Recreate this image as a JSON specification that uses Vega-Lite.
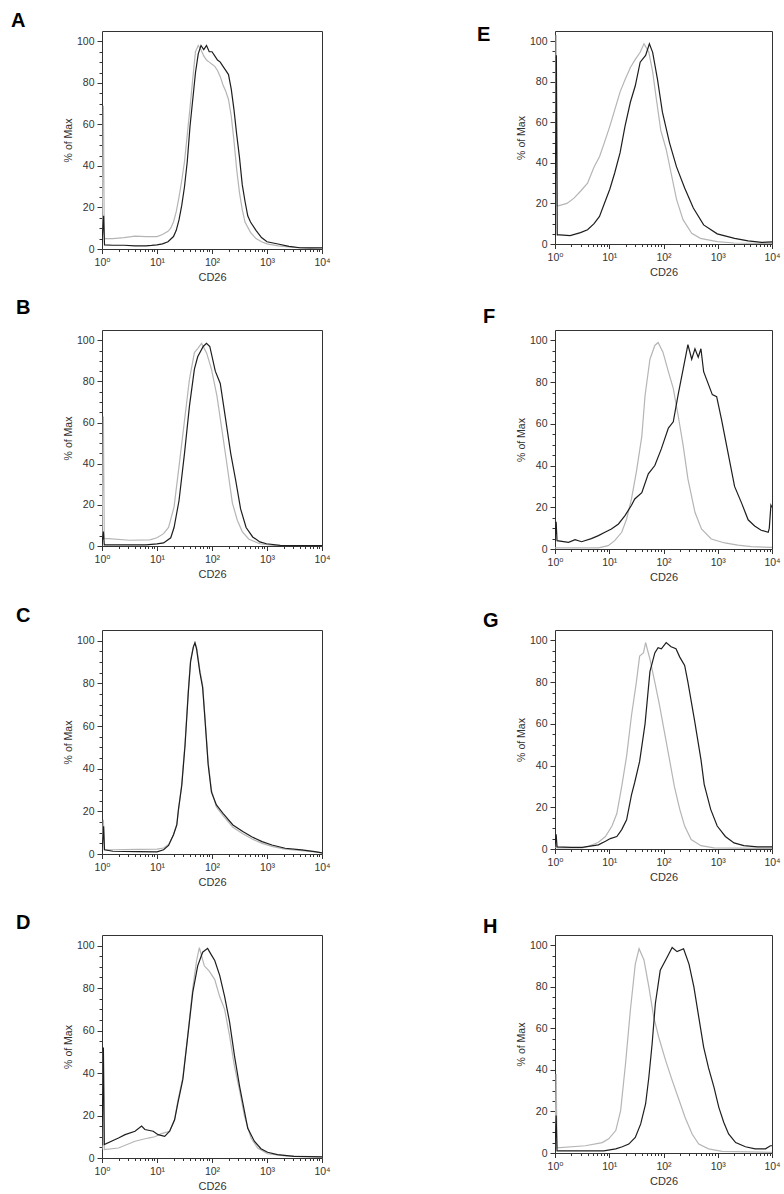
{
"$schema": "https://vega.github.io/schema/vega-lite/v6.json",
"padding": {"left": 10, "top": 10, "right": 5, "bottom": 2},
"background": "white",
"config": {
  "font": "Liberation Sans",
  "view": {"stroke": "#333", "strokeWidth": 1},
  "title": {"fontSize": 20, "fontWeight": "bold", "anchor": "start", "baseline": "alphabetic", "color": "#000", "font": "Liberation Sans", "frame": "group"},
  "axis": {"grid": false, "domain": false, "labelFont": "Liberation Sans, DejaVu Sans", "labelFontSize": 10.5, "labelColor": "#333", "tickColor": "#333", "tickWidth": 1, "titleFont": "Liberation Sans", "titleFontSize": 11, "titleFontWeight": "normal", "titleColor": "#333", "labelOverlap": false, "labelFlush": false, "labelBound": false},
  "axisX": {"labelPadding": 4, "titlePadding": 3},
  "axisY": {"labelPadding": 3, "titlePadding": 3, "titleFontSize": 10.5}
},
"data": {"values": [
{"p":"A","s":"g","x":1,"y":5},{"p":"A","s":"g","x":1.06,"y":69},{"p":"A","s":"g","x":1.1,"y":5},{"p":"A","s":"g","x":1.585,"y":5},{"p":"A","s":"g","x":2.512,"y":5.5},{"p":"A","s":"g","x":3.981,"y":6.2},{"p":"A","s":"g","x":6.31,"y":6},{"p":"A","s":"g","x":10,"y":6},{"p":"A","s":"g","x":12.59,"y":7},{"p":"A","s":"g","x":15.85,"y":8.5},{"p":"A","s":"g","x":17.78,"y":10},{"p":"A","s":"g","x":19.95,"y":13},{"p":"A","s":"g","x":22.39,"y":18},{"p":"A","s":"g","x":25.12,"y":25},{"p":"A","s":"g","x":28.18,"y":33},{"p":"A","s":"g","x":31.62,"y":42},{"p":"A","s":"g","x":35.48,"y":55},{"p":"A","s":"g","x":39.81,"y":68},{"p":"A","s":"g","x":44.67,"y":82},{"p":"A","s":"g","x":50.12,"y":95},{"p":"A","s":"g","x":56.23,"y":98},{"p":"A","s":"g","x":63.1,"y":96},{"p":"A","s":"g","x":70.79,"y":93},{"p":"A","s":"g","x":79.43,"y":91},{"p":"A","s":"g","x":89.13,"y":90},{"p":"A","s":"g","x":100,"y":89},{"p":"A","s":"g","x":112.2,"y":88},{"p":"A","s":"g","x":125.9,"y":86},{"p":"A","s":"g","x":141.3,"y":83},{"p":"A","s":"g","x":158.5,"y":79},{"p":"A","s":"g","x":177.8,"y":76},{"p":"A","s":"g","x":199.5,"y":72},{"p":"A","s":"g","x":223.9,"y":64},{"p":"A","s":"g","x":251.2,"y":52},{"p":"A","s":"g","x":281.8,"y":38},{"p":"A","s":"g","x":316.2,"y":27},{"p":"A","s":"g","x":354.8,"y":19},{"p":"A","s":"g","x":398.1,"y":13},{"p":"A","s":"g","x":501.2,"y":8},{"p":"A","s":"g","x":631,"y":5},{"p":"A","s":"g","x":794.3,"y":3.5},{"p":"A","s":"g","x":1000,"y":2.5},{"p":"A","s":"g","x":1585,"y":1.5},{"p":"A","s":"g","x":2512,"y":1},{"p":"A","s":"g","x":3981,"y":0.5},{"p":"A","s":"g","x":10000,"y":0.3},
{"p":"A","s":"k","x":1,"y":3},{"p":"A","s":"k","x":1.07,"y":16},{"p":"A","s":"k","x":1.11,"y":2},{"p":"A","s":"k","x":1.585,"y":1.8},{"p":"A","s":"k","x":2.512,"y":1.8},{"p":"A","s":"k","x":3.981,"y":1.5},{"p":"A","s":"k","x":6.31,"y":1.5},{"p":"A","s":"k","x":7.943,"y":1.7},{"p":"A","s":"k","x":10,"y":2},{"p":"A","s":"k","x":12.59,"y":2.5},{"p":"A","s":"k","x":15.85,"y":3.5},{"p":"A","s":"k","x":19.95,"y":6},{"p":"A","s":"k","x":22.39,"y":9},{"p":"A","s":"k","x":25.12,"y":14},{"p":"A","s":"k","x":28.18,"y":21},{"p":"A","s":"k","x":31.62,"y":30},{"p":"A","s":"k","x":35.48,"y":42},{"p":"A","s":"k","x":39.81,"y":59},{"p":"A","s":"k","x":44.67,"y":72},{"p":"A","s":"k","x":50.12,"y":85},{"p":"A","s":"k","x":56.23,"y":94},{"p":"A","s":"k","x":63.1,"y":98},{"p":"A","s":"k","x":70.79,"y":96},{"p":"A","s":"k","x":79.43,"y":98},{"p":"A","s":"k","x":89.13,"y":95},{"p":"A","s":"k","x":100,"y":95},{"p":"A","s":"k","x":112.2,"y":93},{"p":"A","s":"k","x":125.9,"y":91},{"p":"A","s":"k","x":141.3,"y":90},{"p":"A","s":"k","x":158.5,"y":88},{"p":"A","s":"k","x":177.8,"y":86},{"p":"A","s":"k","x":199.5,"y":84},{"p":"A","s":"k","x":223.9,"y":77},{"p":"A","s":"k","x":251.2,"y":67},{"p":"A","s":"k","x":281.8,"y":55},{"p":"A","s":"k","x":316.2,"y":44},{"p":"A","s":"k","x":354.8,"y":31},{"p":"A","s":"k","x":398.1,"y":23},{"p":"A","s":"k","x":446.7,"y":16},{"p":"A","s":"k","x":501.2,"y":13},{"p":"A","s":"k","x":631,"y":9},{"p":"A","s":"k","x":794.3,"y":5.5},{"p":"A","s":"k","x":1000,"y":3.5},{"p":"A","s":"k","x":1585,"y":2.4},{"p":"A","s":"k","x":2512,"y":1.3},{"p":"A","s":"k","x":3981,"y":0.6},{"p":"A","s":"k","x":6310,"y":0.5},{"p":"A","s":"k","x":10000,"y":0.6},
{"p":"B","s":"g","x":1,"y":3},{"p":"B","s":"g","x":1.06,"y":63},{"p":"B","s":"g","x":1.1,"y":3.6},{"p":"B","s":"g","x":1.318,"y":3.6},{"p":"B","s":"g","x":3.162,"y":2.8},{"p":"B","s":"g","x":7.413,"y":3},{"p":"B","s":"g","x":10,"y":4},{"p":"B","s":"g","x":13.18,"y":6},{"p":"B","s":"g","x":16.22,"y":9},{"p":"B","s":"g","x":20.42,"y":19},{"p":"B","s":"g","x":25.12,"y":38.6},{"p":"B","s":"g","x":31.62,"y":61},{"p":"B","s":"g","x":38.9,"y":81},{"p":"B","s":"g","x":47.86,"y":94},{"p":"B","s":"g","x":54.95,"y":96},{"p":"B","s":"g","x":64.57,"y":98.5},{"p":"B","s":"g","x":79.43,"y":94},{"p":"B","s":"g","x":97.72,"y":86},{"p":"B","s":"g","x":123,"y":73},{"p":"B","s":"g","x":151.4,"y":56.5},{"p":"B","s":"g","x":186.2,"y":40},{"p":"B","s":"g","x":234.4,"y":21},{"p":"B","s":"g","x":288.4,"y":12.5},{"p":"B","s":"g","x":354.8,"y":7},{"p":"B","s":"g","x":467.7,"y":3.3},{"p":"B","s":"g","x":741.3,"y":1.1},{"p":"B","s":"g","x":1288,"y":0.3},{"p":"B","s":"g","x":10000,"y":0.2},
{"p":"B","s":"k","x":1,"y":1},{"p":"B","s":"k","x":1.06,"y":7},{"p":"B","s":"k","x":1.1,"y":0.5},{"p":"B","s":"k","x":1.585,"y":0.5},{"p":"B","s":"k","x":3.162,"y":0.5},{"p":"B","s":"k","x":6.31,"y":0.5},{"p":"B","s":"k","x":10,"y":1},{"p":"B","s":"k","x":13.18,"y":1.5},{"p":"B","s":"k","x":17.78,"y":4},{"p":"B","s":"k","x":20.42,"y":9},{"p":"B","s":"k","x":25.12,"y":22},{"p":"B","s":"k","x":31.62,"y":45},{"p":"B","s":"k","x":38.9,"y":68},{"p":"B","s":"k","x":47.86,"y":86},{"p":"B","s":"k","x":54.95,"y":92},{"p":"B","s":"k","x":69.18,"y":97},{"p":"B","s":"k","x":79.43,"y":98.5},{"p":"B","s":"k","x":91.2,"y":97},{"p":"B","s":"k","x":114.8,"y":85},{"p":"B","s":"k","x":141.3,"y":79},{"p":"B","s":"k","x":173.8,"y":63},{"p":"B","s":"k","x":218.8,"y":45},{"p":"B","s":"k","x":269.2,"y":32},{"p":"B","s":"k","x":331.1,"y":18},{"p":"B","s":"k","x":416.9,"y":9},{"p":"B","s":"k","x":549.5,"y":4.4},{"p":"B","s":"k","x":741.3,"y":2},{"p":"B","s":"k","x":977.2,"y":1.1},{"p":"B","s":"k","x":1738,"y":0.3},{"p":"B","s":"k","x":10000,"y":0.2},
{"p":"C","s":"g","x":1,"y":2},{"p":"C","s":"g","x":1.06,"y":16},{"p":"C","s":"g","x":1.1,"y":2},{"p":"C","s":"g","x":1.585,"y":2},{"p":"C","s":"g","x":4.365,"y":2.2},{"p":"C","s":"g","x":10,"y":2.3},{"p":"C","s":"g","x":13.18,"y":2.8},{"p":"C","s":"g","x":16.22,"y":4.5},{"p":"C","s":"g","x":19.95,"y":9},{"p":"C","s":"g","x":22.91,"y":14},{"p":"C","s":"g","x":24.55,"y":20},{"p":"C","s":"g","x":28.18,"y":33},{"p":"C","s":"g","x":32.36,"y":52},{"p":"C","s":"g","x":37.15,"y":77},{"p":"C","s":"g","x":40.74,"y":91},{"p":"C","s":"g","x":45.71,"y":97},{"p":"C","s":"g","x":48.98,"y":99},{"p":"C","s":"g","x":52.48,"y":97},{"p":"C","s":"g","x":60.26,"y":86},{"p":"C","s":"g","x":67.61,"y":79},{"p":"C","s":"g","x":74.13,"y":65},{"p":"C","s":"g","x":85.11,"y":43},{"p":"C","s":"g","x":97.72,"y":30},{"p":"C","s":"g","x":120.2,"y":22},{"p":"C","s":"g","x":158.5,"y":18},{"p":"C","s":"g","x":239.9,"y":12.5},{"p":"C","s":"g","x":363.1,"y":9.5},{"p":"C","s":"g","x":537,"y":7},{"p":"C","s":"g","x":812.8,"y":5},{"p":"C","s":"g","x":1230,"y":3.6},{"p":"C","s":"g","x":2138,"y":2.3},{"p":"C","s":"g","x":4266,"y":1.6},{"p":"C","s":"g","x":7413,"y":1},{"p":"C","s":"g","x":10000,"y":0.5},
{"p":"C","s":"k","x":1,"y":1},{"p":"C","s":"k","x":1.07,"y":13},{"p":"C","s":"k","x":1.11,"y":2},{"p":"C","s":"k","x":1.585,"y":1.3},{"p":"C","s":"k","x":4.365,"y":1.1},{"p":"C","s":"k","x":10,"y":1},{"p":"C","s":"k","x":13.18,"y":2},{"p":"C","s":"k","x":16.22,"y":4},{"p":"C","s":"k","x":19.95,"y":9},{"p":"C","s":"k","x":22.91,"y":13.6},{"p":"C","s":"k","x":24.55,"y":21},{"p":"C","s":"k","x":28.18,"y":32},{"p":"C","s":"k","x":32.36,"y":51},{"p":"C","s":"k","x":37.15,"y":76},{"p":"C","s":"k","x":40.74,"y":90},{"p":"C","s":"k","x":45.71,"y":97},{"p":"C","s":"k","x":48.98,"y":99},{"p":"C","s":"k","x":52.48,"y":96},{"p":"C","s":"k","x":60.26,"y":85},{"p":"C","s":"k","x":67.61,"y":78},{"p":"C","s":"k","x":74.13,"y":64},{"p":"C","s":"k","x":85.11,"y":42},{"p":"C","s":"k","x":97.72,"y":29},{"p":"C","s":"k","x":120.2,"y":23},{"p":"C","s":"k","x":158.5,"y":19},{"p":"C","s":"k","x":239.9,"y":13.6},{"p":"C","s":"k","x":363.1,"y":10.5},{"p":"C","s":"k","x":537,"y":8},{"p":"C","s":"k","x":812.8,"y":5.8},{"p":"C","s":"k","x":1230,"y":4.2},{"p":"C","s":"k","x":2138,"y":2.7},{"p":"C","s":"k","x":4266,"y":1.9},{"p":"C","s":"k","x":7413,"y":1.1},{"p":"C","s":"k","x":10000,"y":0.5},
{"p":"D","s":"g","x":1,"y":4},{"p":"D","s":"g","x":1.06,"y":50},{"p":"D","s":"g","x":1.1,"y":4},{"p":"D","s":"g","x":1.995,"y":4.7},{"p":"D","s":"g","x":3.981,"y":7.9},{"p":"D","s":"g","x":6.918,"y":9.4},{"p":"D","s":"g","x":9.12,"y":10},{"p":"D","s":"g","x":12.02,"y":11.5},{"p":"D","s":"g","x":16.98,"y":12.6},{"p":"D","s":"g","x":20.89,"y":18},{"p":"D","s":"g","x":23.99,"y":27},{"p":"D","s":"g","x":29.51,"y":38},{"p":"D","s":"g","x":36.31,"y":58},{"p":"D","s":"g","x":44.67,"y":80},{"p":"D","s":"g","x":52.48,"y":93},{"p":"D","s":"g","x":58.88,"y":99},{"p":"D","s":"g","x":72.44,"y":90.5},{"p":"D","s":"g","x":89.13,"y":88},{"p":"D","s":"g","x":112.2,"y":84},{"p":"D","s":"g","x":138,"y":76},{"p":"D","s":"g","x":169.8,"y":70},{"p":"D","s":"g","x":208.9,"y":57.5},{"p":"D","s":"g","x":257,"y":43},{"p":"D","s":"g","x":316.2,"y":32},{"p":"D","s":"g","x":389,"y":19.7},{"p":"D","s":"g","x":512.9,"y":9.4},{"p":"D","s":"g","x":676.1,"y":4.7},{"p":"D","s":"g","x":1023,"y":2},{"p":"D","s":"g","x":2138,"y":1},{"p":"D","s":"g","x":10000,"y":0.5},
{"p":"D","s":"k","x":1,"y":6},{"p":"D","s":"k","x":1.06,"y":52},{"p":"D","s":"k","x":1.1,"y":6.3},{"p":"D","s":"k","x":1.738,"y":8.7},{"p":"D","s":"k","x":1.995,"y":9.4},{"p":"D","s":"k","x":2.63,"y":11},{"p":"D","s":"k","x":3.981,"y":12.6},{"p":"D","s":"k","x":5.248,"y":15},{"p":"D","s":"k","x":6.026,"y":13.4},{"p":"D","s":"k","x":8.511,"y":12.6},{"p":"D","s":"k","x":10.47,"y":11},{"p":"D","s":"k","x":13.8,"y":10.2},{"p":"D","s":"k","x":16.98,"y":12.6},{"p":"D","s":"k","x":20.89,"y":18},{"p":"D","s":"k","x":23.99,"y":26},{"p":"D","s":"k","x":29.51,"y":37},{"p":"D","s":"k","x":36.31,"y":57.5},{"p":"D","s":"k","x":44.67,"y":78},{"p":"D","s":"k","x":54.95,"y":90.5},{"p":"D","s":"k","x":67.61,"y":96.9},{"p":"D","s":"k","x":83.18,"y":98.7},{"p":"D","s":"k","x":95.5,"y":96},{"p":"D","s":"k","x":112.2,"y":93},{"p":"D","s":"k","x":138,"y":86},{"p":"D","s":"k","x":169.8,"y":76},{"p":"D","s":"k","x":208.9,"y":64},{"p":"D","s":"k","x":257,"y":48},{"p":"D","s":"k","x":316.2,"y":34},{"p":"D","s":"k","x":363.1,"y":26},{"p":"D","s":"k","x":446.7,"y":14},{"p":"D","s":"k","x":588.8,"y":7.9},{"p":"D","s":"k","x":776.2,"y":4.4},{"p":"D","s":"k","x":1023,"y":2.7},{"p":"D","s":"k","x":1549,"y":1.6},{"p":"D","s":"k","x":3090,"y":0.8},{"p":"D","s":"k","x":10000,"y":0.5},
{"p":"E","s":"g","x":1,"y":19},{"p":"E","s":"g","x":1.05,"y":103},{"p":"E","s":"g","x":1.09,"y":19},{"p":"E","s":"g","x":1.148,"y":18.8},{"p":"E","s":"g","x":1.66,"y":20},{"p":"E","s":"g","x":2.239,"y":22.6},{"p":"E","s":"g","x":2.951,"y":26},{"p":"E","s":"g","x":3.981,"y":30},{"p":"E","s":"g","x":5.248,"y":38},{"p":"E","s":"g","x":6.607,"y":43},{"p":"E","s":"g","x":8.128,"y":50},{"p":"E","s":"g","x":10.23,"y":58},{"p":"E","s":"g","x":12.59,"y":66},{"p":"E","s":"g","x":15.85,"y":75},{"p":"E","s":"g","x":19.5,"y":81},{"p":"E","s":"g","x":24.55,"y":87},{"p":"E","s":"g","x":30.2,"y":91},{"p":"E","s":"g","x":37.15,"y":94.5},{"p":"E","s":"g","x":43.65,"y":98.7},{"p":"E","s":"g","x":53.7,"y":94.5},{"p":"E","s":"g","x":63.1,"y":85},{"p":"E","s":"g","x":72.44,"y":73},{"p":"E","s":"g","x":89.13,"y":56},{"p":"E","s":"g","x":112.2,"y":46.6},{"p":"E","s":"g","x":138,"y":35},{"p":"E","s":"g","x":173.8,"y":22},{"p":"E","s":"g","x":229.1,"y":12},{"p":"E","s":"g","x":331.1,"y":5.3},{"p":"E","s":"g","x":478.6,"y":2.8},{"p":"E","s":"g","x":977.2,"y":1.2},{"p":"E","s":"g","x":2000,"y":0.5},{"p":"E","s":"g","x":10000,"y":0.3},
{"p":"E","s":"k","x":1,"y":4},{"p":"E","s":"k","x":1.06,"y":93},{"p":"E","s":"k","x":1.1,"y":4.5},{"p":"E","s":"k","x":1.23,"y":4.5},{"p":"E","s":"k","x":1.905,"y":4.1},{"p":"E","s":"k","x":2.951,"y":5.6},{"p":"E","s":"k","x":3.981,"y":7},{"p":"E","s":"k","x":5.248,"y":10},{"p":"E","s":"k","x":6.607,"y":13.6},{"p":"E","s":"k","x":8.128,"y":20},{"p":"E","s":"k","x":10.23,"y":27},{"p":"E","s":"k","x":12.59,"y":35},{"p":"E","s":"k","x":15.85,"y":45},{"p":"E","s":"k","x":19.5,"y":58},{"p":"E","s":"k","x":24.55,"y":70},{"p":"E","s":"k","x":30.2,"y":78},{"p":"E","s":"k","x":37.15,"y":89.6},{"p":"E","s":"k","x":46.77,"y":93},{"p":"E","s":"k","x":54.95,"y":98.7},{"p":"E","s":"k","x":63.1,"y":94.5},{"p":"E","s":"k","x":77.62,"y":81},{"p":"E","s":"k","x":95.5,"y":65},{"p":"E","s":"k","x":128.8,"y":50},{"p":"E","s":"k","x":173.8,"y":38},{"p":"E","s":"k","x":245.5,"y":27.6},{"p":"E","s":"k","x":354.8,"y":17.7},{"p":"E","s":"k","x":549.5,"y":9.4},{"p":"E","s":"k","x":977.2,"y":5},{"p":"E","s":"k","x":2042,"y":2.8},{"p":"E","s":"k","x":3631,"y":1.5},{"p":"E","s":"k","x":6457,"y":0.8},{"p":"E","s":"k","x":10000,"y":1},
{"p":"F","s":"g","x":1,"y":0.5},{"p":"F","s":"g","x":1.585,"y":0.5},{"p":"F","s":"g","x":3.162,"y":0.5},{"p":"F","s":"g","x":6.31,"y":0.5},{"p":"F","s":"g","x":9.55,"y":1.6},{"p":"F","s":"g","x":12.59,"y":4},{"p":"F","s":"g","x":16.98,"y":8},{"p":"F","s":"g","x":20.89,"y":14.4},{"p":"F","s":"g","x":25.7,"y":24},{"p":"F","s":"g","x":31.62,"y":37},{"p":"F","s":"g","x":39.81,"y":54},{"p":"F","s":"g","x":45.71,"y":73.6},{"p":"F","s":"g","x":56.23,"y":91},{"p":"F","s":"g","x":69.18,"y":97.6},{"p":"F","s":"g","x":79.43,"y":99},{"p":"F","s":"g","x":97.72,"y":94.4},{"p":"F","s":"g","x":123,"y":85},{"p":"F","s":"g","x":151.4,"y":77},{"p":"F","s":"g","x":186.2,"y":64},{"p":"F","s":"g","x":229.1,"y":50},{"p":"F","s":"g","x":281.8,"y":33.6},{"p":"F","s":"g","x":380.2,"y":17.6},{"p":"F","s":"g","x":501.2,"y":9.6},{"p":"F","s":"g","x":758.6,"y":4.8},{"p":"F","s":"g","x":1349,"y":2.9},{"p":"F","s":"g","x":2344,"y":1.9},{"p":"F","s":"g","x":4169,"y":1.1},{"p":"F","s":"g","x":10000,"y":0.8},
{"p":"F","s":"k","x":1,"y":4},{"p":"F","s":"k","x":1.05,"y":13},{"p":"F","s":"k","x":1.09,"y":4},{"p":"F","s":"k","x":1.778,"y":3.2},{"p":"F","s":"k","x":2.344,"y":4.5},{"p":"F","s":"k","x":3.09,"y":3.5},{"p":"F","s":"k","x":4.677,"y":5},{"p":"F","s":"k","x":6.31,"y":6.4},{"p":"F","s":"k","x":8.318,"y":8},{"p":"F","s":"k","x":10.96,"y":9.6},{"p":"F","s":"k","x":14.79,"y":12},{"p":"F","s":"k","x":19.5,"y":16},{"p":"F","s":"k","x":25.7,"y":21},{"p":"F","s":"k","x":29.51,"y":24},{"p":"F","s":"k","x":39.81,"y":27},{"p":"F","s":"k","x":52.48,"y":36},{"p":"F","s":"k","x":69.18,"y":40},{"p":"F","s":"k","x":91.2,"y":48},{"p":"F","s":"k","x":123,"y":58},{"p":"F","s":"k","x":151.4,"y":61},{"p":"F","s":"k","x":186.2,"y":74},{"p":"F","s":"k","x":245.5,"y":90},{"p":"F","s":"k","x":281.8,"y":98},{"p":"F","s":"k","x":331.1,"y":91},{"p":"F","s":"k","x":380.2,"y":96},{"p":"F","s":"k","x":436.5,"y":92},{"p":"F","s":"k","x":489.8,"y":96},{"p":"F","s":"k","x":549.5,"y":85},{"p":"F","s":"k","x":794.3,"y":74},{"p":"F","s":"k","x":955,"y":73},{"p":"F","s":"k","x":1175,"y":62},{"p":"F","s":"k","x":1445,"y":50},{"p":"F","s":"k","x":2042,"y":30},{"p":"F","s":"k","x":2754,"y":22},{"p":"F","s":"k","x":3631,"y":14},{"p":"F","s":"k","x":4786,"y":11},{"p":"F","s":"k","x":6310,"y":9},{"p":"F","s":"k","x":8511,"y":8},{"p":"F","s":"k","x":8913,"y":10},{"p":"F","s":"k","x":9550,"y":21},{"p":"F","s":"k","x":10000,"y":20},
{"p":"G","s":"g","x":1,"y":0.5},{"p":"G","s":"g","x":1.05,"y":3},{"p":"G","s":"g","x":1.09,"y":0.5},{"p":"G","s":"g","x":3.162,"y":0.5},{"p":"G","s":"g","x":4.169,"y":1.3},{"p":"G","s":"g","x":6.31,"y":3.2},{"p":"G","s":"g","x":8.511,"y":6},{"p":"G","s":"g","x":11.22,"y":11},{"p":"G","s":"g","x":13.8,"y":17},{"p":"G","s":"g","x":16.98,"y":30},{"p":"G","s":"g","x":20.89,"y":44.5},{"p":"G","s":"g","x":25.7,"y":64},{"p":"G","s":"g","x":31.62,"y":80},{"p":"G","s":"g","x":36.31,"y":92.5},{"p":"G","s":"g","x":42.66,"y":94},{"p":"G","s":"g","x":46.77,"y":99},{"p":"G","s":"g","x":56.23,"y":91},{"p":"G","s":"g","x":69.18,"y":80},{"p":"G","s":"g","x":85.11,"y":68.5},{"p":"G","s":"g","x":104.7,"y":55.7},{"p":"G","s":"g","x":128.8,"y":43},{"p":"G","s":"g","x":158.5,"y":30},{"p":"G","s":"g","x":199.5,"y":19},{"p":"G","s":"g","x":245.5,"y":11},{"p":"G","s":"g","x":323.6,"y":4.5},{"p":"G","s":"g","x":489.8,"y":1.6},{"p":"G","s":"g","x":851.1,"y":0.5},{"p":"G","s":"g","x":10000,"y":0.3},
{"p":"G","s":"k","x":1,"y":1},{"p":"G","s":"k","x":1.05,"y":7},{"p":"G","s":"k","x":1.09,"y":1},{"p":"G","s":"k","x":1.995,"y":0.8},{"p":"G","s":"k","x":3.162,"y":0.8},{"p":"G","s":"k","x":4.169,"y":1.3},{"p":"G","s":"k","x":6.31,"y":2},{"p":"G","s":"k","x":8.511,"y":3.7},{"p":"G","s":"k","x":10.47,"y":5},{"p":"G","s":"k","x":13.8,"y":6},{"p":"G","s":"k","x":16.98,"y":9.3},{"p":"G","s":"k","x":20.89,"y":14},{"p":"G","s":"k","x":25.7,"y":26},{"p":"G","s":"k","x":29.51,"y":32},{"p":"G","s":"k","x":36.31,"y":42},{"p":"G","s":"k","x":45.71,"y":60},{"p":"G","s":"k","x":56.23,"y":85},{"p":"G","s":"k","x":69.18,"y":94},{"p":"G","s":"k","x":79.43,"y":96.5},{"p":"G","s":"k","x":91.2,"y":96},{"p":"G","s":"k","x":112.2,"y":99},{"p":"G","s":"k","x":138,"y":97},{"p":"G","s":"k","x":169.8,"y":96},{"p":"G","s":"k","x":199.5,"y":92},{"p":"G","s":"k","x":245.5,"y":88},{"p":"G","s":"k","x":281.8,"y":80},{"p":"G","s":"k","x":371.5,"y":62},{"p":"G","s":"k","x":489.8,"y":43},{"p":"G","s":"k","x":562.3,"y":31},{"p":"G","s":"k","x":741.3,"y":19},{"p":"G","s":"k","x":977.2,"y":11},{"p":"G","s":"k","x":1380,"y":6},{"p":"G","s":"k","x":1995,"y":2.9},{"p":"G","s":"k","x":3020,"y":1.6},{"p":"G","s":"k","x":5370,"y":1},{"p":"G","s":"k","x":10000,"y":1},
{"p":"H","s":"g","x":1,"y":2.5},{"p":"H","s":"g","x":1.05,"y":38},{"p":"H","s":"g","x":1.09,"y":2.5},{"p":"H","s":"g","x":3.631,"y":3.5},{"p":"H","s":"g","x":7.413,"y":5},{"p":"H","s":"g","x":9.772,"y":6.8},{"p":"H","s":"g","x":13.18,"y":10.8},{"p":"H","s":"g","x":16.22,"y":20.4},{"p":"H","s":"g","x":19.95,"y":43},{"p":"H","s":"g","x":24.55,"y":69},{"p":"H","s":"g","x":30.2,"y":91},{"p":"H","s":"g","x":35.48,"y":98.4},{"p":"H","s":"g","x":43.65,"y":93},{"p":"H","s":"g","x":53.7,"y":80},{"p":"H","s":"g","x":66.07,"y":65.4},{"p":"H","s":"g","x":81.28,"y":56},{"p":"H","s":"g","x":109.6,"y":44.5},{"p":"H","s":"g","x":144.5,"y":35},{"p":"H","s":"g","x":190.5,"y":26},{"p":"H","s":"g","x":251.2,"y":17},{"p":"H","s":"g","x":338.8,"y":9},{"p":"H","s":"g","x":446.7,"y":4.3},{"p":"H","s":"g","x":676.1,"y":2},{"p":"H","s":"g","x":1202,"y":0.8},{"p":"H","s":"g","x":10000,"y":0.3},
{"p":"H","s":"k","x":1,"y":1},{"p":"H","s":"k","x":1.05,"y":18},{"p":"H","s":"k","x":1.09,"y":1},{"p":"H","s":"k","x":3.162,"y":1},{"p":"H","s":"k","x":7.943,"y":1},{"p":"H","s":"k","x":13.18,"y":2},{"p":"H","s":"k","x":17.38,"y":3},{"p":"H","s":"k","x":22.91,"y":4.3},{"p":"H","s":"k","x":30.2,"y":7.5},{"p":"H","s":"k","x":38.02,"y":14},{"p":"H","s":"k","x":46.77,"y":23.6},{"p":"H","s":"k","x":53.7,"y":36.5},{"p":"H","s":"k","x":61.66,"y":52.5},{"p":"H","s":"k","x":70.79,"y":72},{"p":"H","s":"k","x":87.1,"y":88},{"p":"H","s":"k","x":109.6,"y":93},{"p":"H","s":"k","x":125.9,"y":96},{"p":"H","s":"k","x":144.5,"y":99},{"p":"H","s":"k","x":177.8,"y":97},{"p":"H","s":"k","x":234.4,"y":98.4},{"p":"H","s":"k","x":295.1,"y":91},{"p":"H","s":"k","x":363.1,"y":80},{"p":"H","s":"k","x":446.7,"y":65.4},{"p":"H","s":"k","x":549.5,"y":51},{"p":"H","s":"k","x":676.1,"y":41},{"p":"H","s":"k","x":851.1,"y":31.7},{"p":"H","s":"k","x":1047,"y":22},{"p":"H","s":"k","x":1288,"y":14.8},{"p":"H","s":"k","x":1585,"y":9.2},{"p":"H","s":"k","x":2138,"y":5},{"p":"H","s":"k","x":3236,"y":3},{"p":"H","s":"k","x":4898,"y":2},{"p":"H","s":"k","x":7586,"y":2},{"p":"H","s":"k","x":9333,"y":3.5},{"p":"H","s":"k","x":10000,"y":3.5}
]},
"columns": 2,
"spacing": {"row": 81, "column": 233},
"bounds": "flush",
"concat": [
  {"title": {"text": "A", "dx": -91, "offset": 0.5}, "width": 220, "height": 218, "transform": [{"filter": "datum.p === 'A'"}], "mark": {"type": "line", "strokeWidth": 1.2, "clip": true},
   "encoding": {"x": {"field": "x", "type": "quantitative", "scale": {"type": "log", "domain": [1, 10000], "nice": false}, "axis": {"title": "CD26", "values": [1,2,3,4,5,6,7,8,9,10,20,30,40,50,60,70,80,90,100,200,300,400,500,600,700,800,900,1000,2000,3000,4000,5000,6000,7000,8000,9000,10000], "labelExpr": "datum.value === 1 ? '10⁰' : datum.value === 10 ? '10¹' : datum.value === 100 ? '10²' : datum.value === 1000 ? '10³' : datum.value === 10000 ? '10⁴' : ''", "tickSize": {"condition": {"test": "datum.value === 1 || datum.value === 10 || datum.value === 100 || datum.value === 1000 || datum.value === 10000", "value": 4.5}, "value": 2.5}}},
    "y": {"field": "y", "type": "quantitative", "scale": {"domain": [0, 105], "nice": false}, "axis": {"title": "% of Max", "values": [0,5,10,15,20,25,30,35,40,45,50,55,60,65,70,75,80,85,90,95,100], "labelExpr": "datum.value % 20 === 0 ? datum.label : ''", "tickSize": {"condition": {"test": "datum.value % 20 === 0", "value": 5}, "value": 3}}},
    "color": {"field": "s", "type": "nominal", "scale": {"domain": ["g", "k"], "range": ["#b5b5b5", "#1e1e1e"]}, "legend": null}}},
  {"title": {"text": "E", "dx": -78, "offset": -13.5}, "width": 217, "height": 213, "transform": [{"filter": "datum.p === 'E'"}], "mark": {"type": "line", "strokeWidth": 1.2, "clip": true},
   "encoding": {"x": {"field": "x", "type": "quantitative", "scale": {"type": "log", "domain": [1, 10000], "nice": false}, "axis": {"title": "CD26", "values": [1,2,3,4,5,6,7,8,9,10,20,30,40,50,60,70,80,90,100,200,300,400,500,600,700,800,900,1000,2000,3000,4000,5000,6000,7000,8000,9000,10000], "labelExpr": "datum.value === 1 ? '10⁰' : datum.value === 10 ? '10¹' : datum.value === 100 ? '10²' : datum.value === 1000 ? '10³' : datum.value === 10000 ? '10⁴' : ''", "tickSize": {"condition": {"test": "datum.value === 1 || datum.value === 10 || datum.value === 100 || datum.value === 1000 || datum.value === 10000", "value": 4.5}, "value": 2.5}}},
    "y": {"field": "y", "type": "quantitative", "scale": {"domain": [0, 105], "nice": false}, "axis": {"title": "% of Max", "values": [0,5,10,15,20,25,30,35,40,45,50,55,60,65,70,75,80,85,90,95,100], "labelExpr": "datum.value % 20 === 0 ? datum.label : ''", "tickSize": {"condition": {"test": "datum.value % 20 === 0", "value": 5}, "value": 3}}},
    "color": {"field": "s", "type": "nominal", "scale": {"domain": ["g", "k"], "range": ["#b5b5b5", "#1e1e1e"]}, "legend": null}}},
  {"title": {"text": "B", "dx": -86, "offset": 12.5}, "width": 220, "height": 216, "transform": [{"filter": "datum.p === 'B'"}], "mark": {"type": "line", "strokeWidth": 1.2, "clip": true},
   "encoding": {"x": {"field": "x", "type": "quantitative", "scale": {"type": "log", "domain": [1, 10000], "nice": false}, "axis": {"title": "CD26", "values": [1,2,3,4,5,6,7,8,9,10,20,30,40,50,60,70,80,90,100,200,300,400,500,600,700,800,900,1000,2000,3000,4000,5000,6000,7000,8000,9000,10000], "labelExpr": "datum.value === 1 ? '10⁰' : datum.value === 10 ? '10¹' : datum.value === 100 ? '10²' : datum.value === 1000 ? '10³' : datum.value === 10000 ? '10⁴' : ''", "tickSize": {"condition": {"test": "datum.value === 1 || datum.value === 10 || datum.value === 100 || datum.value === 1000 || datum.value === 10000", "value": 4.5}, "value": 2.5}}},
    "y": {"field": "y", "type": "quantitative", "scale": {"domain": [0, 105], "nice": false}, "axis": {"title": "% of Max", "values": [0,5,10,15,20,25,30,35,40,45,50,55,60,65,70,75,80,85,90,95,100], "labelExpr": "datum.value % 20 === 0 ? datum.label : ''", "tickSize": {"condition": {"test": "datum.value % 20 === 0", "value": 5}, "value": 3}}},
    "color": {"field": "s", "type": "nominal", "scale": {"domain": ["g", "k"], "range": ["#b5b5b5", "#1e1e1e"]}, "legend": null}}},
  {"title": {"text": "F", "dx": -72, "offset": 3.5}, "width": 217, "height": 219, "transform": [{"filter": "datum.p === 'F'"}], "mark": {"type": "line", "strokeWidth": 1.2, "clip": true},
   "encoding": {"x": {"field": "x", "type": "quantitative", "scale": {"type": "log", "domain": [1, 10000], "nice": false}, "axis": {"title": "CD26", "values": [1,2,3,4,5,6,7,8,9,10,20,30,40,50,60,70,80,90,100,200,300,400,500,600,700,800,900,1000,2000,3000,4000,5000,6000,7000,8000,9000,10000], "labelExpr": "datum.value === 1 ? '10⁰' : datum.value === 10 ? '10¹' : datum.value === 100 ? '10²' : datum.value === 1000 ? '10³' : datum.value === 10000 ? '10⁴' : ''", "tickSize": {"condition": {"test": "datum.value === 1 || datum.value === 10 || datum.value === 100 || datum.value === 1000 || datum.value === 10000", "value": 4.5}, "value": 2.5}}},
    "y": {"field": "y", "type": "quantitative", "scale": {"domain": [0, 105], "nice": false}, "axis": {"title": "% of Max", "values": [0,5,10,15,20,25,30,35,40,45,50,55,60,65,70,75,80,85,90,95,100], "labelExpr": "datum.value % 20 === 0 ? datum.label : ''", "tickSize": {"condition": {"test": "datum.value % 20 === 0", "value": 5}, "value": 3}}},
    "color": {"field": "s", "type": "nominal", "scale": {"domain": ["g", "k"], "range": ["#b5b5b5", "#1e1e1e"]}, "legend": null}}},
  {"title": {"text": "C", "dx": -86, "offset": 4.5}, "width": 220, "height": 224, "transform": [{"filter": "datum.p === 'C'"}], "mark": {"type": "line", "strokeWidth": 1.2, "clip": true},
   "encoding": {"x": {"field": "x", "type": "quantitative", "scale": {"type": "log", "domain": [1, 10000], "nice": false}, "axis": {"title": "CD26", "values": [1,2,3,4,5,6,7,8,9,10,20,30,40,50,60,70,80,90,100,200,300,400,500,600,700,800,900,1000,2000,3000,4000,5000,6000,7000,8000,9000,10000], "labelExpr": "datum.value === 1 ? '10⁰' : datum.value === 10 ? '10¹' : datum.value === 100 ? '10²' : datum.value === 1000 ? '10³' : datum.value === 10000 ? '10⁴' : ''", "tickSize": {"condition": {"test": "datum.value === 1 || datum.value === 10 || datum.value === 100 || datum.value === 1000 || datum.value === 10000", "value": 4.5}, "value": 2.5}}},
    "y": {"field": "y", "type": "quantitative", "scale": {"domain": [0, 105], "nice": false}, "axis": {"title": "% of Max", "values": [0,5,10,15,20,25,30,35,40,45,50,55,60,65,70,75,80,85,90,95,100], "labelExpr": "datum.value % 20 === 0 ? datum.label : ''", "tickSize": {"condition": {"test": "datum.value % 20 === 0", "value": 5}, "value": 3}}},
    "color": {"field": "s", "type": "nominal", "scale": {"domain": ["g", "k"], "range": ["#b5b5b5", "#1e1e1e"]}, "legend": null}}},
  {"title": {"text": "G", "dx": -72, "offset": -0.5}, "width": 217, "height": 219, "transform": [{"filter": "datum.p === 'G'"}], "mark": {"type": "line", "strokeWidth": 1.2, "clip": true},
   "encoding": {"x": {"field": "x", "type": "quantitative", "scale": {"type": "log", "domain": [1, 10000], "nice": false}, "axis": {"title": "CD26", "values": [1,2,3,4,5,6,7,8,9,10,20,30,40,50,60,70,80,90,100,200,300,400,500,600,700,800,900,1000,2000,3000,4000,5000,6000,7000,8000,9000,10000], "labelExpr": "datum.value === 1 ? '10⁰' : datum.value === 10 ? '10¹' : datum.value === 100 ? '10²' : datum.value === 1000 ? '10³' : datum.value === 10000 ? '10⁴' : ''", "tickSize": {"condition": {"test": "datum.value === 1 || datum.value === 10 || datum.value === 100 || datum.value === 1000 || datum.value === 10000", "value": 4.5}, "value": 2.5}}},
    "y": {"field": "y", "type": "quantitative", "scale": {"domain": [0, 105], "nice": false}, "axis": {"title": "% of Max", "values": [0,5,10,15,20,25,30,35,40,45,50,55,60,65,70,75,80,85,90,95,100], "labelExpr": "datum.value % 20 === 0 ? datum.label : ''", "tickSize": {"condition": {"test": "datum.value % 20 === 0", "value": 5}, "value": 3}}},
    "color": {"field": "s", "type": "nominal", "scale": {"domain": ["g", "k"], "range": ["#b5b5b5", "#1e1e1e"]}, "legend": null}}},
  {"title": {"text": "D", "dx": -86, "offset": 2.5}, "width": 220, "height": 223, "transform": [{"filter": "datum.p === 'D'"}], "mark": {"type": "line", "strokeWidth": 1.2, "clip": true},
   "encoding": {"x": {"field": "x", "type": "quantitative", "scale": {"type": "log", "domain": [1, 10000], "nice": false}, "axis": {"title": "CD26", "values": [1,2,3,4,5,6,7,8,9,10,20,30,40,50,60,70,80,90,100,200,300,400,500,600,700,800,900,1000,2000,3000,4000,5000,6000,7000,8000,9000,10000], "labelExpr": "datum.value === 1 ? '10⁰' : datum.value === 10 ? '10¹' : datum.value === 100 ? '10²' : datum.value === 1000 ? '10³' : datum.value === 10000 ? '10⁴' : ''", "tickSize": {"condition": {"test": "datum.value === 1 || datum.value === 10 || datum.value === 100 || datum.value === 1000 || datum.value === 10000", "value": 4.5}, "value": 2.5}}},
    "y": {"field": "y", "type": "quantitative", "scale": {"domain": [0, 105], "nice": false}, "axis": {"title": "% of Max", "values": [0,5,10,15,20,25,30,35,40,45,50,55,60,65,70,75,80,85,90,95,100], "labelExpr": "datum.value % 20 === 0 ? datum.label : ''", "tickSize": {"condition": {"test": "datum.value % 20 === 0", "value": 5}, "value": 3}}},
    "color": {"field": "s", "type": "nominal", "scale": {"domain": ["g", "k"], "range": ["#b5b5b5", "#1e1e1e"]}, "legend": null}}},
  {"title": {"text": "H", "dx": -72, "offset": -1.5}, "width": 217, "height": 218, "transform": [{"filter": "datum.p === 'H'"}], "mark": {"type": "line", "strokeWidth": 1.2, "clip": true},
   "encoding": {"x": {"field": "x", "type": "quantitative", "scale": {"type": "log", "domain": [1, 10000], "nice": false}, "axis": {"title": "CD26", "values": [1,2,3,4,5,6,7,8,9,10,20,30,40,50,60,70,80,90,100,200,300,400,500,600,700,800,900,1000,2000,3000,4000,5000,6000,7000,8000,9000,10000], "labelExpr": "datum.value === 1 ? '10⁰' : datum.value === 10 ? '10¹' : datum.value === 100 ? '10²' : datum.value === 1000 ? '10³' : datum.value === 10000 ? '10⁴' : ''", "tickSize": {"condition": {"test": "datum.value === 1 || datum.value === 10 || datum.value === 100 || datum.value === 1000 || datum.value === 10000", "value": 4.5}, "value": 2.5}}},
    "y": {"field": "y", "type": "quantitative", "scale": {"domain": [0, 105], "nice": false}, "axis": {"title": "% of Max", "values": [0,5,10,15,20,25,30,35,40,45,50,55,60,65,70,75,80,85,90,95,100], "labelExpr": "datum.value % 20 === 0 ? datum.label : ''", "tickSize": {"condition": {"test": "datum.value % 20 === 0", "value": 5}, "value": 3}}},
    "color": {"field": "s", "type": "nominal", "scale": {"domain": ["g", "k"], "range": ["#b5b5b5", "#1e1e1e"]}, "legend": null}}}
]
}
